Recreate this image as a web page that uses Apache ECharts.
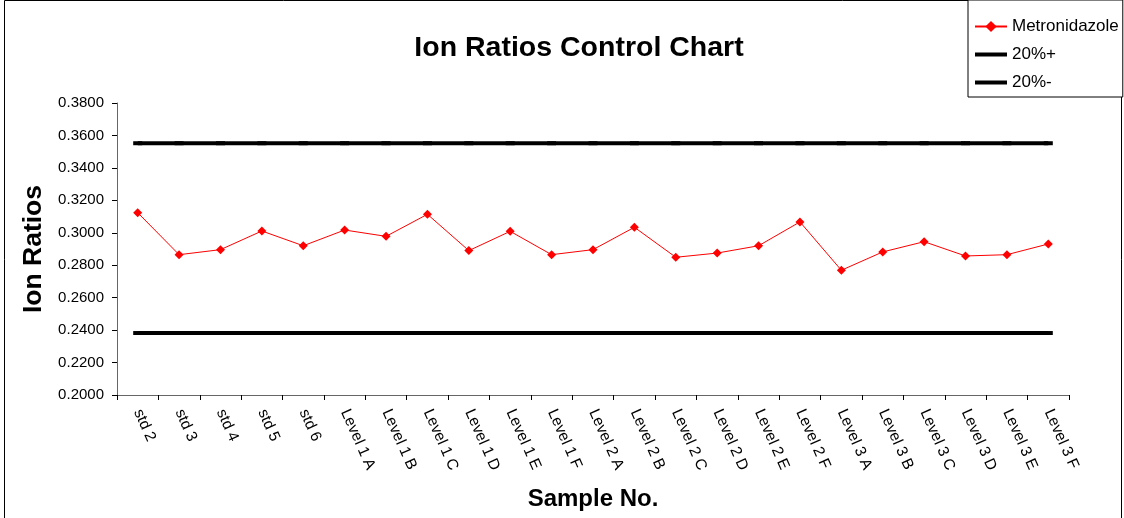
<!DOCTYPE html>
<html>
<head>
<meta charset="utf-8">
<script src="https://cdn.jsdelivr.net/npm/echarts@6/dist/echarts.min.js"></script>
<style>
html,body{margin:0;padding:0;background:#fff;}
#chart{width:1124px;height:518px;}
</style>
</head>
<body>
<div id="chart"></div>
<script>
var categories = ['std 2','std 3','std 4','std 5','std 6','Level 1 A','Level 1 B','Level 1 C','Level 1 D','Level 1 E','Level 1 F','Level 2 A','Level 2 B','Level 2 C','Level 2 D','Level 2 E','Level 2 F','Level 3 A','Level 3 B','Level 3 C','Level 3 D','Level 3 E','Level 3 F'];
var metronidazole = [0.3124,0.2865,0.2896,0.3011,0.2920,0.3017,0.2978,0.3114,0.2890,0.3009,0.2865,0.2896,0.3034,0.2849,0.2875,0.2920,0.3067,0.2769,0.2882,0.2945,0.2857,0.2865,0.2931];
var upper20 = [0.3552,0.3552,0.3552,0.3552,0.3552,0.3552,0.3552,0.3552,0.3552,0.3552,0.3552,0.3552,0.3552,0.3552,0.3552,0.3552,0.3552,0.3552,0.3552,0.3552,0.3552,0.3552,0.3552];
var lower20 = [0.2382,0.2382,0.2382,0.2382,0.2382,0.2382,0.2382,0.2382,0.2382,0.2382,0.2382,0.2382,0.2382,0.2382,0.2382,0.2382,0.2382,0.2382,0.2382,0.2382,0.2382,0.2382,0.2382];
var yMin = 0.2, yMax = 0.38, yStep = 0.02;

var FONT = '"Liberation Sans", Arial, sans-serif';
var chart = echarts.init(document.getElementById('chart'), null, {renderer:'canvas'});
var barIcon = 'path://M0,0 M0,5 H32 V9 H0 Z M32,14';
chart.setOption({
  animation:false,
  backgroundColor:'#fff',
  textStyle:{fontFamily:FONT},
  title:{
    text:'Ion Ratios Control Chart',
    left:574, top:29, textAlign:'center',
    textStyle:{fontFamily:FONT,fontSize:28.5,fontWeight:'bold',color:'#000'}
  },
  graphic:[{type:'rect',shape:{x:4.5,y:0.5,width:1117,height:540},style:{fill:'none',stroke:'#000',lineWidth:1},silent:true}],
  legend:{
    orient:'vertical', left:968, top:0,
    padding:[18,4,6,6], itemGap:11, itemWidth:32, itemHeight:14,
    backgroundColor:'#fff', borderColor:'#000', borderWidth:1,
    textStyle:{fontFamily:FONT,fontSize:17,color:'#000'},
    data:[{name:'Metronidazole'},{name:'20%+',icon:barIcon},{name:'20%-',icon:barIcon}]
  },
  grid:{left:117,right:55,top:103,bottom:123,containLabel:false},
  xAxis:{
    type:'category', data:categories, boundaryGap:true,
    name:'Sample No.', nameLocation:'middle', nameGap:92,
    nameTextStyle:{fontFamily:FONT,fontSize:24,fontWeight:'bold',color:'#000'},
    axisLine:{lineStyle:{color:'#666',width:1}},
    axisTick:{show:true,length:5,lineStyle:{color:'#000'}},
    axisLabel:{rotate:-66,margin:15,fontFamily:FONT,fontSize:15.5,color:'#000',interval:0},
    splitLine:{show:false}
  },
  yAxis:{
    type:'value', min:yMin, max:yMax, interval:yStep,
    name:'Ion Ratios', nameLocation:'middle', nameGap:69, nameRotate:90,
    nameTextStyle:{fontFamily:FONT,fontSize:26.5,fontWeight:'bold',color:'#000'},
    axisLine:{show:true,lineStyle:{color:'#666',width:1}},
    axisTick:{show:true,length:5,inside:false,lineStyle:{color:'#000'}},
    axisLabel:{margin:13,fontFamily:FONT,fontSize:15,color:'#000',formatter:function(v){return v.toFixed(4);}},
    splitLine:{show:false}
  },
  series:[
    {name:'Metronidazole',type:'line',data:metronidazole,
     lineStyle:{color:'#ff0000',width:1},itemStyle:{color:'#ff0000'},
     symbol:'diamond',symbolSize:9,z:5},
    {name:'20%+',type:'line',data:upper20,
     lineStyle:{color:'#000',width:4},itemStyle:{color:'#000'},
     symbol:'rect',symbolSize:[9,4],z:3},
    {name:'20%-',type:'line',data:lower20,
     lineStyle:{color:'#000',width:4},itemStyle:{color:'#000'},
     symbol:'rect',symbolSize:[9,4],z:3}
  ]
});
</script>
</body>
</html>
